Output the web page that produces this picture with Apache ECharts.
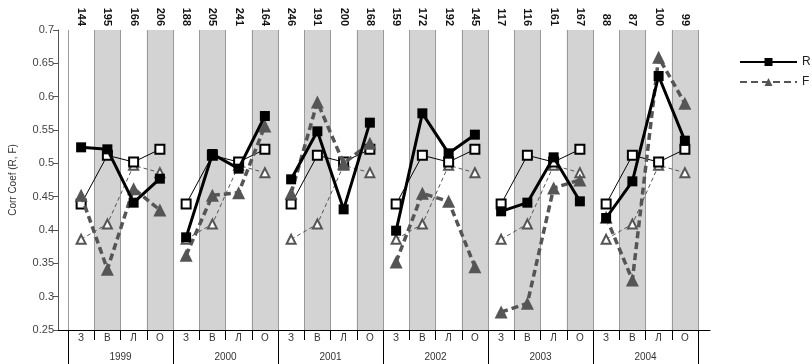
<!DOCTYPE html>
<html><head><meta charset="utf-8">
<script src="https://cdn.jsdelivr.net/npm/echarts@6/dist/echarts.min.js"></script>
<style>html,body{margin:0;padding:0;background:#fff}#c{width:812px;height:364px}</style>
</head><body><div id="c"></div>
<script>
const years = ['1999','2000','2001','2002','2003','2004'];
const seasons = ['З','В','Л','О'];
const counts = ['144','195','166','206','188','205','241','164','246','191','200','168','159','172','192','145','117','116','161','167','88','87','100','99'];
const R = [0.524,0.521,0.441,0.477, 0.389,0.514,0.492,0.571, 0.476,0.548,0.431,0.561, 0.399,0.575,0.515,0.543, 0.428,0.441,0.509,0.443, 0.418,0.473,0.631,0.534];
const F = [0.452,0.341,0.462,0.430, 0.362,0.452,0.456,0.556, 0.455,0.592,0.500,0.530, 0.352,0.455,0.443,0.345, 0.277,0.290,0.463,0.475, 0.419,0.325,0.659,0.590];
const Rref = [0.439,0.512,0.502,0.521];
const Fref = [0.386,0.409,0.497,0.486];

const cats = [];
years.forEach(y => seasons.forEach(s => cats.push(s)));

function yearSlice(arr, yi) {
  return cats.map((_, i) => (Math.floor(i / 4) === yi ? arr[i] : '-'));
}
const series = [];
years.forEach((y, yi) => {
  const rr = cats.map((_, i) => (Math.floor(i / 4) === yi ? Rref[i % 4] : '-'));
  const fr = cats.map((_, i) => (Math.floor(i / 4) === yi ? Fref[i % 4] : '-'));
  series.push({name:'F0', type:'line', data:fr, symbol:'emptyTriangle', symbolSize:9,
    lineStyle:{color:'#555', width:1, type:[4,3]}, itemStyle:{color:'#555', borderColor:'#555', borderWidth:1}, z:2, animation:false});
  series.push({name:'R0', type:'line', data:rr, symbol:'emptyRect', symbolSize:9,
    lineStyle:{color:'#000', width:1}, itemStyle:{color:'#000', borderColor:'#000', borderWidth:1.2}, z:3, animation:false});
});
years.forEach((y, yi) => {
  series.push({name:'F', type:'line', data:yearSlice(F, yi), symbol:'triangle', symbolSize:13,
    lineStyle:{color:'#555', width:3.5, type:[7,4]}, itemStyle:{color:'#555'}, z:4, animation:false});
});
years.forEach((y, yi) => {
  series.push({name:'R', type:'line', data:yearSlice(R, yi), symbol:'rect', symbolSize:10,
    lineStyle:{color:'#000', width:3}, itemStyle:{color:'#000'}, z:5, animation:false});
});

const chart = echarts.init(document.getElementById('c'), null, {renderer:'canvas'});
chart.setOption({
  animation:false,
  textStyle:{fontFamily:'Liberation Sans, Arial, sans-serif'},
  grid:[
    {left:68, right:114, top:30, bottom:34},
    {left:58, right:102, top:30, bottom:34}
  ],
  legend:{
    orient:'vertical', left:734, top:51, itemWidth:57, itemHeight:10, itemGap:8,
    data:['R','F'], textStyle:{color:'#222', fontSize:12}, selectedMode:false,
    lineStyle:{width:2}
  },
  xAxis:[
    {type:'category', gridIndex:0, data:cats, boundaryGap:true, position:'bottom',
     axisLine:{show:true, lineStyle:{color:'#000', width:1}},
     axisTick:{show:true, interval:0, length:10, lineStyle:{color:'#000'}},
     axisLabel:{interval:0, margin:3, fontSize:10, color:'#333'},
     splitLine:{show:true, interval:0, lineStyle:{color:'#999', width:1}},
     splitArea:{show:true, interval:0, areaStyle:{color:['#ffffff','#d3d3d3']}}},
    {type:'category', gridIndex:0, data:years, boundaryGap:true, position:'bottom',
     axisLine:{show:false},
     axisTick:{show:true, interval:0, length:34, lineStyle:{color:'#000'}},
     axisLabel:{interval:0, margin:22, fontSize:10, color:'#333'},
     splitLine:{show:false}},
    {type:'category', gridIndex:0, data:counts, boundaryGap:true, position:'top',
     axisLine:{show:false}, axisTick:{show:false},
     axisLabel:{interval:0, rotate:90, margin:4, fontSize:11, fontWeight:'bold', color:'#111'}},
    {type:'value', gridIndex:1, min:0, max:1,
     axisLine:{show:true, onZero:false, lineStyle:{color:'#000'}}, axisTick:{show:false},
     axisLabel:{show:false}, splitLine:{show:false}}
  ],
  yAxis:[
    {type:'value', gridIndex:0, min:0.25, max:0.7, interval:0.05, offset:10,
     name:'Corr Coef (R, F)', nameLocation:'middle', nameGap:40, nameRotate:90,
     nameTextStyle:{fontSize:10, color:'#333'},
     axisLine:{show:true, lineStyle:{color:'#555'}},
     axisTick:{show:true, length:5, lineStyle:{color:'#555'}},
     axisLabel:{fontSize:11, color:'#444', margin:4, formatter:v => String(+v.toFixed(2))},
     splitLine:{show:false}},
    {type:'value', gridIndex:1, show:false, min:0, max:1}
  ],
  series: series
});
</script></body></html>
